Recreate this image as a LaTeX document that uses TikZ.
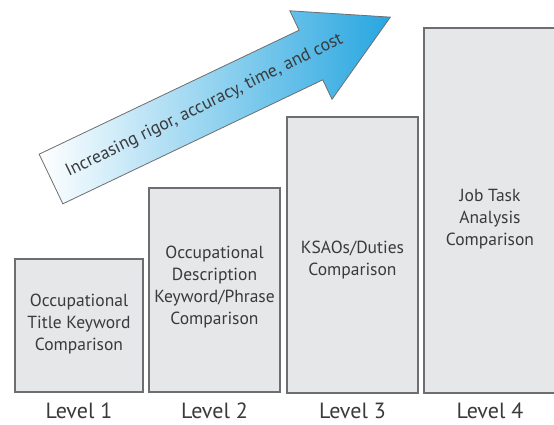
\documentclass[tikz,border=0pt]{standalone}
\usepackage{fontspec}
\setmainfont{PT Sans}
\definecolor{boxfill}{HTML}{E6E7E8}
\definecolor{boxline}{HTML}{6D6E71}
\definecolor{txt}{HTML}{3A3A3C}
\definecolor{arrowblue}{HTML}{27A6E0}
\begin{document}
\begin{tikzpicture}[x=1pt,y=-1pt,
  box/.style={draw=boxline, fill=boxfill, line width=1.2pt, inner sep=0pt},
  boxtext/.style={align=center, text=txt, inner sep=0pt, font=\fontsize{17.5}{22}\selectfont},
  lvl/.style={text=txt, font=\fontsize{22}{24}\selectfont},
  arrowtext/.style={text=txt, font=\fontsize{17.8}{20}\selectfont, rotate=26}]
\useasboundingbox (0,0) rectangle (554,425);
\fill[white] (0,0) rectangle (554,425);
% arrow
\begin{scope}[shift={(51,179)}, rotate=25.5]
  \shade[left color=white, right color=arrowblue, draw=boxline, line width=0.8pt, line join=miter]
    (0,-27.5) -- (288,-27.5) -- (288,-49) -- (376,0) -- (288,49) -- (288,27.5) -- (0,27.5) -- cycle;
  \coordinate (tc) at (170,0);
\end{scope}
\node[arrowtext] (arrtxt) at (tc) {Increasing rigor, accuracy, time, and cost};
% boxes
\node[box, minimum width=128pt, minimum height=133pt] (b1) at (79,325.5) {};
\node[box, minimum width=131pt, minimum height=204pt] (b2) at (214.5,290) {};
\node[box, minimum width=131pt, minimum height=276pt] (b3) at (352.5,255) {};
\node[box, minimum width=132pt, minimum height=365pt] (b4) at (490,210.5) {};
\node[boxtext] (t1) at (79,324) {Occupational\\Title Keyword\\Comparison};
\node[boxtext] (t2) at (214.5,287) {Occupational\\Description\\Keyword/Phrase\\Comparison};
\node[boxtext] (t3) at (352.5,260) {KSAOs/Duties\\Comparison};
\node[boxtext] (t4) at (490,219) {Job Task\\Analysis\\Comparison};
% level labels
\node[lvl] (l1) at (79,411) {Level 1};
\node[lvl] (l2) at (214.5,411) {Level 2};
\node[lvl] (l3) at (352.5,411) {Level 3};
\node[lvl] (l4) at (490,411) {Level 4};
\end{tikzpicture}
\end{document}
